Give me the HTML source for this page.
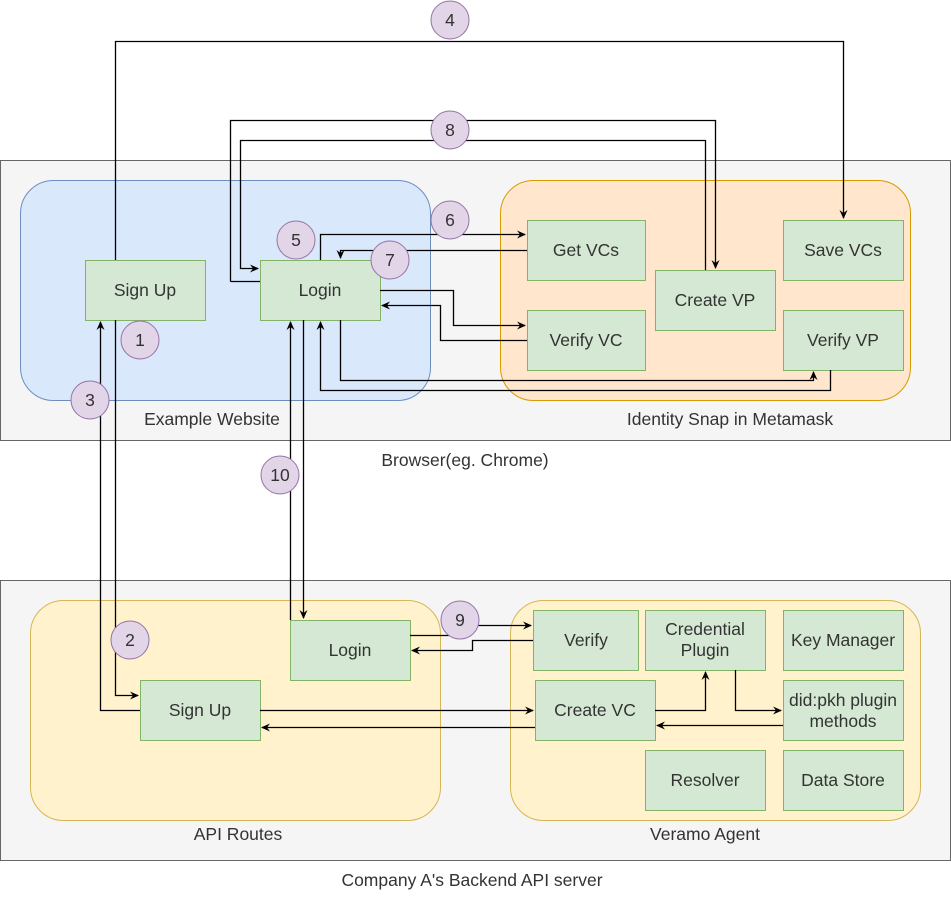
<!DOCTYPE html>
<html><head><meta charset="utf-8"><style>body{margin:0;background:#fff}svg{display:block}text{font-family:"Liberation Sans",sans-serif;font-size:17.5px;fill:#333}</style></head>
<body>
<svg width="951" height="901" viewBox="0 0 951 901" xmlns="http://www.w3.org/2000/svg">
<defs><marker id="a" markerWidth="10" markerHeight="10" refX="8" refY="5" orient="auto" markerUnits="userSpaceOnUse"><path d="M0,1 L9,5 L0,9 L3,5 Z" fill="#000"/></marker></defs>
<rect x="0.5" y="160.5" width="950" height="280" fill="#f5f5f5" stroke="#666"/>
<rect x="20.5" y="180.5" width="410" height="220" rx="33" fill="#dae8fc" stroke="#6c8ebf"/>
<rect x="500.5" y="180.5" width="410" height="220" rx="33" fill="#ffe6cc" stroke="#d79b00"/>
<rect x="0.5" y="580.5" width="950" height="280" fill="#f5f5f5" stroke="#666"/>
<rect x="30.5" y="600.5" width="410" height="220" rx="33" fill="#fff2cc" stroke="#d6b656"/>
<rect x="510.5" y="600.5" width="410" height="220" rx="33" fill="#fff2cc" stroke="#d6b656"/>
<g fill="#d5e8d4" stroke="#82b366">
<rect x="85.5" y="260.5" width="120" height="60"/><rect x="260.5" y="260.5" width="120" height="60"/>
<rect x="527.5" y="220.5" width="118" height="60"/><rect x="527.5" y="310.5" width="118" height="60"/>
<rect x="655.5" y="270.5" width="120" height="60"/><rect x="783.5" y="220.5" width="120" height="60"/>
<rect x="783.5" y="310.5" width="120" height="60"/>
<rect x="290.5" y="620.5" width="120" height="60"/><rect x="140.5" y="680.5" width="120" height="60"/>
<rect x="533.5" y="610.5" width="105" height="60"/><rect x="645.5" y="610.5" width="120" height="60"/>
<rect x="783.5" y="610.5" width="120" height="60"/><rect x="535.5" y="680.5" width="120" height="60"/>
<rect x="783.5" y="680.5" width="120" height="60"/><rect x="645.5" y="750.5" width="120" height="60"/>
<rect x="783.5" y="750.5" width="120" height="60"/>
</g>
<g fill="none" stroke="#000" stroke-width="1.3">
<path d="M115.5,260 V41.5 H843.5 V218" marker-end="url(#a)"/>
<path d="M230.5,281.5 V120.5 H715.5 V268" marker-end="url(#a)"/>
<path d="M705.5,270 V140.5 H240.5 V268.5 H258" marker-end="url(#a)"/>
<path d="M230.5,281.5 H260"/>
<path d="M320.5,260 V234.5 H525" marker-end="url(#a)"/>
<path d="M527,250.5 H340.5 V258" marker-end="url(#a)"/>
<path d="M380,290.5 H453.5 V325.5 H525" marker-end="url(#a)"/>
<path d="M527,340.5 H440.5 V305.5 H382" marker-end="url(#a)"/>
<path d="M340.5,320 V380.5 H813.5 V372" marker-end="url(#a)"/>
<path d="M830.5,370 V390.5 H320.5 V322" marker-end="url(#a)"/>
<path d="M290.5,620 V322" marker-end="url(#a)"/>
<path d="M303.5,320 V618" marker-end="url(#a)"/>
<path d="M115.5,320 V695.5 H138" marker-end="url(#a)"/>
<path d="M140,710.5 H100.5 V322" marker-end="url(#a)"/>
<path d="M260,710.5 H533" marker-end="url(#a)"/>
<path d="M535,727.5 H262" marker-end="url(#a)"/>
<path d="M410,635.5 H470.5 V625.5 H531" marker-end="url(#a)"/>
<path d="M533,640.5 H472.5 V650.5 H412" marker-end="url(#a)"/>
<path d="M655,710.5 H705.5 V672" marker-end="url(#a)"/>
<path d="M735.5,670 V710.5 H781" marker-end="url(#a)"/>
<path d="M783,725.5 H657" marker-end="url(#a)"/>
</g>
<g fill="#e1d5e7" stroke="#9673a6">
<circle cx="450" cy="20" r="19"/><circle cx="450" cy="130" r="19"/><circle cx="450" cy="220" r="19"/>
<circle cx="296" cy="240" r="19"/><circle cx="390" cy="260" r="19"/><circle cx="140" cy="340" r="19"/>
<circle cx="90" cy="400" r="19"/><circle cx="280" cy="475" r="19"/><circle cx="130" cy="640" r="19"/>
<circle cx="460" cy="620" r="19"/>
</g>
<g text-anchor="middle">
<text x="450" y="26">4</text><text x="450" y="136">8</text><text x="450" y="226">6</text>
<text x="296" y="246">5</text><text x="390" y="266">7</text><text x="140" y="346">1</text>
<text x="90" y="406">3</text><text x="280" y="481">10</text><text x="130" y="646">2</text>
<text x="460" y="626">9</text>
<text x="145" y="296">Sign Up</text><text x="320" y="296">Login</text>
<text x="586" y="256">Get VCs</text><text x="586" y="346">Verify VC</text>
<text x="715" y="306">Create VP</text><text x="843" y="256">Save VCs</text><text x="843" y="346">Verify VP</text>
<text x="350" y="656">Login</text><text x="200" y="716">Sign Up</text>
<text x="586" y="646">Verify</text><text x="705" y="635">Credential</text><text x="705" y="656">Plugin</text>
<text x="843" y="646">Key Manager</text><text x="595" y="716">Create VC</text>
<text x="843" y="706">did:pkh plugin</text><text x="843" y="727">methods</text>
<text x="705" y="786">Resolver</text><text x="843" y="786">Data Store</text>
<text x="212" y="425">Example Website</text><text x="730" y="425">Identity Snap in Metamask</text>
<text x="465" y="466">Browser(eg. Chrome)</text>
<text x="238" y="840">API Routes</text><text x="705" y="840">Veramo Agent</text>
<text x="472" y="886">Company A's Backend API server</text>
</g>
</svg>
</body></html>
